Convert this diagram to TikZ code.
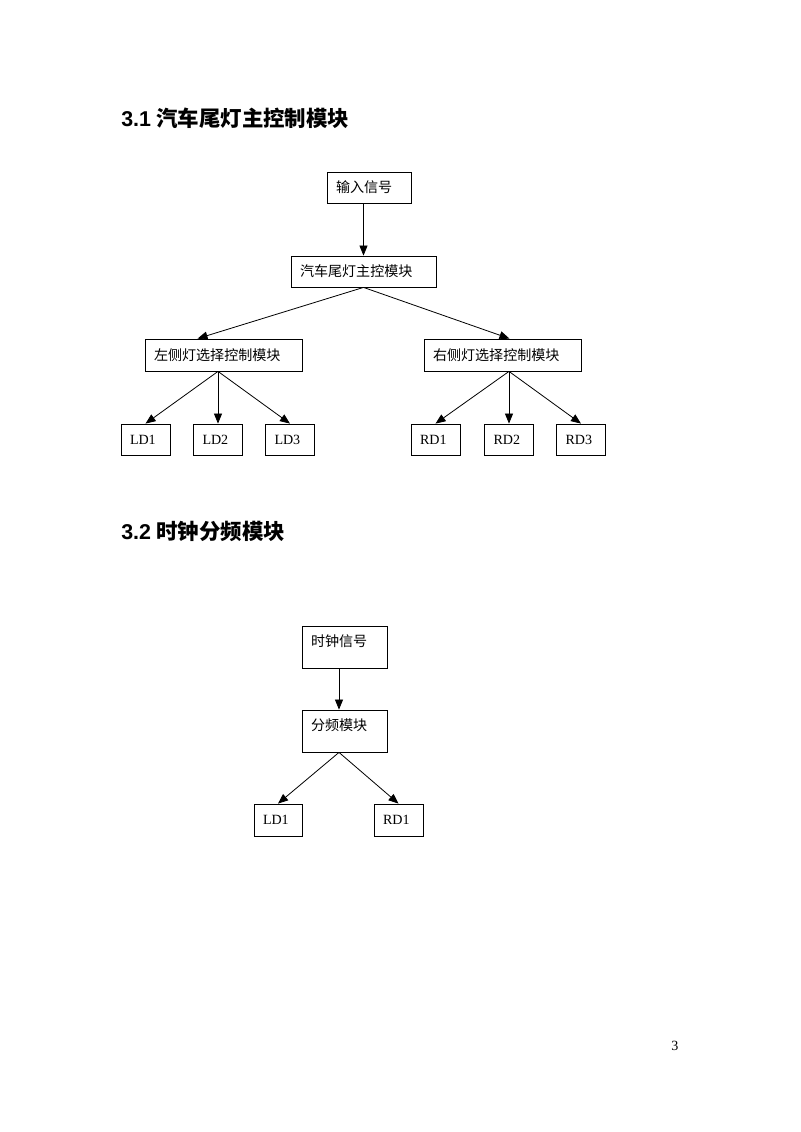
\documentclass[tikz,border=0pt]{standalone}
\usepackage{fontspec}
\setmainfont{Liberation Serif}
\newfontfamily\cjk{Noto Sans CJK SC}
\newfontfamily\headfont{Liberation Sans}
\usetikzlibrary{arrows.meta,positioning}
\newcommand\px{0.02625cm}
\tikzset{
  blk/.style={draw, line width=0.6pt, inner xsep=9*\px, inner ysep=0pt, align=left,
    font=\fontsize{10.5}{12}\selectfont},
  arr/.style={-{Triangle[length=7.5pt,width=6pt]}, line width=0.6pt},
  head/.style={anchor=base west, inner sep=0pt, font=\fontsize{16}{19}\selectfont\bfseries},
}
\begin{document}
\begin{tikzpicture}[x=\px, y=-\px]
 \useasboundingbox (0,0) rectangle (800,1132);
 % 3.1
 \node[head] (h1) at (121,126) {{\headfont 3.1} {\cjk 汽车尾灯主控制模块}};
 \node[blk, text width=66*\px, minimum height=31*\px] (inp) at (369,187.5) {\cjk 输入信号};
 \node[blk, text width=127*\px, minimum height=31*\px] (main) at (363.5,271.5) {\cjk 汽车尾灯主控模块};
 \node[blk, text width=139*\px, minimum height=32*\px] (lsel) at (223.5,355) {\cjk 左侧灯选择控制模块};
 \node[blk, text width=139*\px, minimum height=32*\px] (rsel) at (502.5,355) {\cjk 右侧灯选择控制模块};
 \node[blk, text width=31*\px, minimum height=31*\px] (ld1) at (145.5,439.5) {LD1};
 \node[blk, text width=31*\px, minimum height=31*\px] (ld2) at (218,439.5) {LD2};
 \node[blk, text width=31*\px, minimum height=31*\px] (ld3) at (290,439.5) {LD3};
 \node[blk, text width=31*\px, minimum height=31*\px] (rd1) at (435.5,439.5) {RD1};
 \node[blk, text width=31*\px, minimum height=31*\px] (rd2) at (509,439.5) {RD2};
 \node[blk, text width=31*\px, minimum height=31*\px] (rd3) at (581,439.5) {RD3};
 %
 \draw[arr] (inp.south -| main.north) -- (main.north);
 \draw[arr] (main.south) -- ([xshift=-26*\px]lsel.north);
 \draw[arr] (main.south) -- ([xshift=7*\px]rsel.north);
 \draw[arr] (lsel.south -| ld2) -- (ld1.north);
 \draw[arr] (lsel.south -| ld2) -- (ld2.north);
 \draw[arr] (lsel.south -| ld2) -- (ld3.north);
 \draw[arr] (rsel.south -| rd2) -- (rd1.north);
 \draw[arr] (rsel.south -| rd2) -- (rd2.north);
 \draw[arr] (rsel.south -| rd2) -- (rd3.north);
 % 3.2
 \node[head] (h2) at (121,539) {{\headfont 3.2} {\cjk 时钟分频模块}};
 \node[blk, text width=67*\px, text height=20*\px, text depth=22*\px] (clk) at (344.5,647) {\cjk 时钟信号};
 \node[blk, text width=67*\px, text height=20*\px, text depth=22*\px] (div) at (344.5,731) {\cjk 分频模块};
 \node[blk, text width=30*\px, minimum height=32*\px] (cl) at (278,820) {LD1};
 \node[blk, text width=31*\px, minimum height=32*\px] (cr) at (398.5,820) {RD1};
 \draw[arr] ([xshift=-5.5*\px]clk.south) -- ([xshift=-5.5*\px]div.north);
 \draw[arr] ([xshift=-5.5*\px]div.south) -- (cl.north);
 \draw[arr] ([xshift=-5.5*\px]div.south) -- (cr.north);
 % page number
 \node[anchor=base, inner sep=0pt, font=\fontsize{10.5}{12}\selectfont] (pg) at (675,1050) {3};
\end{tikzpicture}
\end{document}
